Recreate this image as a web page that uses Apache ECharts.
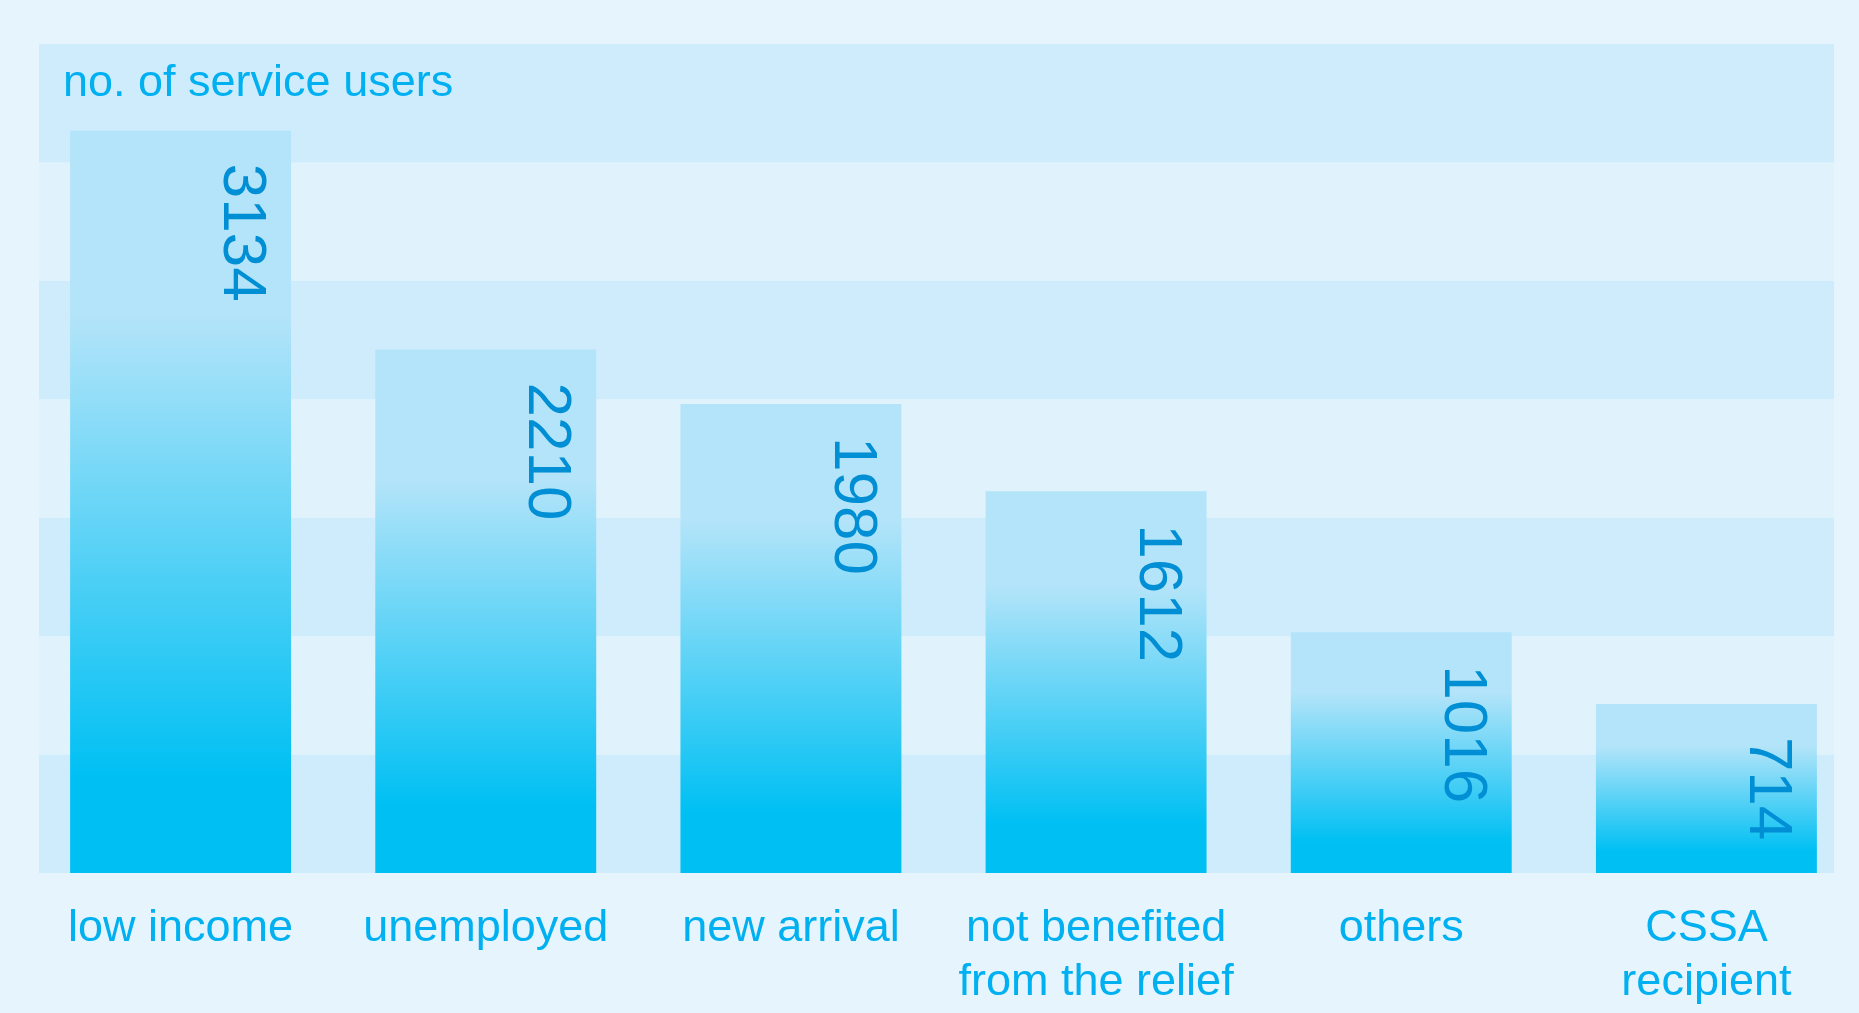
<!DOCTYPE html>
<html>
<head>
<meta charset="utf-8">
<script src="https://cdn.jsdelivr.net/npm/echarts@6/dist/echarts.min.js"></script>
<style>
html,body{margin:0;padding:0;background:#e6f5fd;}
#c{width:1859px;height:1013px;}
</style>
</head>
<body>
<div id="c"></div>
<script>
const categories = ['low income', 'unemployed', 'new arrival', 'not benefited\nfrom the relief', 'others', 'CSSA\nrecipient'];
const users = [3134, 2210, 1980, 1612, 1016, 714];
const yMin = 0, yMax = 3500, yStep = 500;
const axisTitle = 'no. of service users';

const FONT = '"Liberation Sans", Arial, Helvetica, sans-serif';
const chart = echarts.init(document.getElementById('c'));
chart.setOption({
  backgroundColor: '#e6f5fd',
  animation: false,
  title: {
    text: axisTitle, left: 58, top: 56,
    textStyle: { color: '#00b0f0', fontSize: 45, fontWeight: 'normal', fontFamily: FONT }
  },
  grid: [
    { left: 39, right: 25, top: 44, bottom: 140 },
    { left: 28, right: 0, top: 44, bottom: 140 }
  ],
  xAxis: [
    { type: 'value', gridIndex: 0, show: false },
    {
      type: 'category', gridIndex: 1, data: categories,
      axisLine: { show: false }, axisTick: { show: false },
      axisLabel: { color: '#00b0f0', fontSize: 45, fontFamily: FONT, lineHeight: 54, margin: 29, interval: 0 }
    }
  ],
  yAxis: [
    {
      type: 'value', gridIndex: 0, min: yMin, max: yMax, interval: yStep,
      axisLabel: { show: false }, axisLine: { show: false }, axisTick: { show: false },
      splitLine: { show: false },
      splitArea: { show: true, areaStyle: { color: ['#cfecfd', '#e0f3fd'] } }
    },
    {
      type: 'value', gridIndex: 1, min: yMin, max: yMax, interval: yStep, show: false,
      splitLine: { show: false }
    }
  ],
  series: [{
    type: 'bar', xAxisIndex: 1, yAxisIndex: 1, data: users, barWidth: '72.4%',
    itemStyle: {
      color: new echarts.graphic.LinearGradient(0, 0, 0, 1, [
        { offset: 0, color: '#b3e4f9' },
        { offset: 0.25, color: '#b3e4f9' },
        { offset: 0.87, color: '#00c0f3' },
        { offset: 1, color: '#00c0f3' }
      ])
    },
    label: {
      show: true, position: ['77.5%', 33], rotate: -90, align: 'left', verticalAlign: 'middle',
      color: '#008fd5', fontSize: 62, fontFamily: FONT
    }
  }]
});
</script>
</body>
</html>
